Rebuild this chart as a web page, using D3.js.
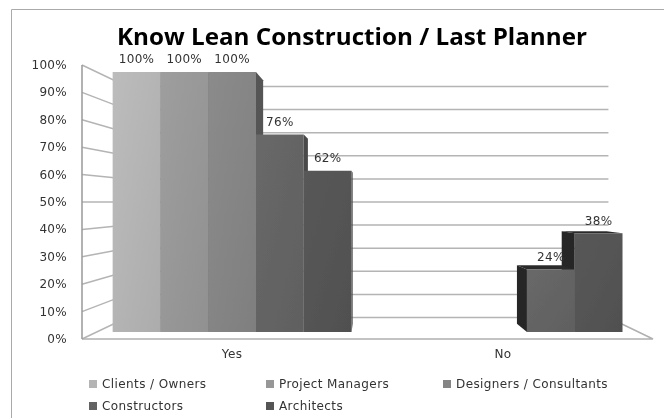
<!DOCTYPE html>
<html>
<head>
<meta charset="utf-8">
<script src="https://cdn.jsdelivr.net/npm/d3@7/dist/d3.min.js"></script>
<style>
  html, body { margin: 0; padding: 0; background: #fff; }
  svg { display: block; }
  text { font-family: "DejaVu Sans", sans-serif; fill: #333; }
</style>
</head>
<body>
<script>
'use strict';

const categories = ['Yes', 'No'];
const seriesNames = ['Clients / Owners', 'Project Managers', 'Designers / Consultants', 'Constructors', 'Architects'];
const clientsOwners = [100, 0];
const projectManagers = [100, 0];
const designersConsultants = [100, 0];
const constructors = [76, 24];
const architects = [62, 38];
const seriesValues = [clientsOwners, projectManagers, designersConsultants, constructors, architects];
const seriesColors = ['#b4b4b4', '#979797', '#858585', '#646464', '#545454'];
const sideColors = ['#555', '#555', '#555', '#4a4a4a', '#4a4a4a'];
const yTicks = [0, 10, 20, 30, 40, 50, 60, 70, 80, 90, 100];

const width = 664;
const height = 418;

// one point perspective: planes shrink towards the vanishing point
const vanish = [369, 202];
const frontDepth = 1;
const barFrontDepth = 0.949;
const barBackDepth = 0.889;
const wallDepth = 0.843;

const x = d3.scaleBand().domain(categories).range([82, 653]);
const y = d3.scaleLinear().domain([0, 100]).range([339, 65]);
const inner = d3.scaleBand().domain(d3.range(seriesNames.length))
  .range([0, x.bandwidth()]).paddingOuter(0.335).paddingInner(0);

const project = (px, py, depth) => [
  vanish[0] + (px - vanish[0]) * depth,
  vanish[1] + (py - vanish[1]) * depth,
];
const line = d3.line();

const svg = d3.select('body').append('svg')
  .attr('width', width)
  .attr('height', height);

const defs = svg.append('defs');
defs.append('filter').attr('id', 'soft')
  .append('feGaussianBlur').attr('stdDeviation', 0.45);
defs.append('filter').attr('id', 'softText')
  .append('feGaussianBlur').attr('stdDeviation', 0.3);

seriesColors.forEach((c, i) => {
  const grad = defs.append('linearGradient').attr('id', 'bar' + i)
    .attr('x1', 0).attr('y1', 0).attr('x2', 1).attr('y2', 1);
  grad.append('stop').attr('offset', 0).attr('stop-color', d3.rgb(c).brighter(0.12));
  grad.append('stop').attr('offset', 1).attr('stop-color', d3.rgb(c).darker(0.12));
});

const g = svg.append('g').attr('filter', 'url(#soft)');

// chart border, only top and left are in frame
g.append('path')
  .attr('d', line([[11.5, height], [11.5, 9.5], [width, 9.5]]))
  .attr('fill', 'none').attr('stroke', '#aaa').attr('stroke-width', 1);

// walls
const x0 = x.range()[0];
const x1 = x.range()[1];
const gridColor = '#b4b4b4';

g.append('g').selectAll('path').data(yTicks).enter().append('path')
  .attr('d', (d) => line([
    project(x0, y(d), frontDepth),
    project(x0, y(d), wallDepth),
    project(x1, y(d), wallDepth),
  ]))
  .attr('fill', 'none').attr('stroke', gridColor).attr('stroke-width', 1.5);

// floor edge on the right and front
g.append('path')
  .attr('d', line([
    project(x1, y(0), wallDepth),
    project(x1, y(0), frontDepth),
    project(x0, y(0), frontDepth),
  ]))
  .attr('fill', 'none').attr('stroke', '#b0b0b0').attr('stroke-width', 1.5);

g.append('path')
  .attr('d', line([project(x0, y(100), 1), project(x0, y(0), 1)]))
  .attr('fill', 'none').attr('stroke', '#999').attr('stroke-width', 1.5);

// bars, far from the vanishing point first so the sides stack right
const bars = [];
categories.forEach((cat, c) => {
  seriesValues.forEach((vals, s) => {
    if (vals[c] > 0) bars.push({ cat, s, value: vals[c] });
  });
});

const barLeft = (d) => x(d.cat) + inner(d.s);
const barRight = (d) => barLeft(d) + inner.bandwidth();

const drawn = bars.slice().sort((a, b) =>
  Math.abs((barLeft(b) + barRight(b)) / 2 - vanish[0]) - Math.abs((barLeft(a) + barRight(a)) / 2 - vanish[0]));

const bar = g.append('g').selectAll('g').data(drawn).enter().append('g');

// side face facing the vanishing point
bar.append('path')
  .attr('d', (d) => {
    const edge = barRight(d) < vanish[0] ? barRight(d) : barLeft(d);
    return line([
      project(edge, y(d.value), barFrontDepth),
      project(edge, y(d.value), barBackDepth),
      project(edge, y(0), barBackDepth),
      project(edge, y(0), barFrontDepth),
    ]) + 'Z';
  })
  .attr('fill', (d) => d.cat === 'No' ? '#262626' : sideColors[d.s]);

// top face, only seen when below eye level
bar.filter((d) => y(d.value) > vanish[1]).append('path')
  .attr('d', (d) => line([
    project(barLeft(d), y(d.value), barFrontDepth),
    project(barLeft(d), y(d.value), barBackDepth),
    project(barRight(d), y(d.value), barBackDepth),
    project(barRight(d), y(d.value), barFrontDepth),
  ]) + 'Z')
  .attr('fill', '#2b2b2b');

// front face
bar.append('path')
  .attr('d', (d) => line([
    project(barLeft(d), y(d.value), barFrontDepth),
    project(barRight(d), y(d.value), barFrontDepth),
    project(barRight(d), y(0), barFrontDepth),
    project(barLeft(d), y(0), barFrontDepth),
  ]) + 'Z')
  .attr('fill', (d) => `url(#bar${d.s})`);

// text
const t = svg.append('g').attr('filter', 'url(#softText)');

t.append('text')
  .attr('x', 352).attr('y', 44.5)
  .attr('text-anchor', 'middle')
  .attr('textLength', 470).attr('lengthAdjust', 'spacingAndGlyphs')
  .style('font-family', '"Open Sans", sans-serif')
  .style('font-weight', 700).style('font-size', '23px').style('fill', '#000')
  .text('Know Lean Construction / Last Planner');

t.append('g').selectAll('text').data(yTicks).enter().append('text')
  .attr('x', 67)
  .attr('y', (d) => y(d) + 4)
  .attr('text-anchor', 'end')
  .style('font-size', '12px')
  .style('letter-spacing', '0.3px')
  .text((d) => d + '%');

t.append('g').selectAll('text').data(categories).enter().append('text')
  .attr('x', (d) => project(x(d) + x.bandwidth() / 2, 0, barFrontDepth)[0])
  .attr('y', 358)
  .attr('text-anchor', 'middle')
  .style('font-size', '12px')
  .style('letter-spacing', '0.4px')
  .text((d) => d);

t.append('g').selectAll('text').data(bars).enter().append('text')
  .attr('x', (d) => project((barLeft(d) + barRight(d)) / 2, 0, barFrontDepth)[0])
  .attr('y', (d) => project(0, y(d.value), barFrontDepth)[1] - 8.5)
  .attr('text-anchor', 'middle')
  .style('font-size', '12px')
  .style('letter-spacing', '0.3px')
  .text((d) => d.value + '%');

// legend
const legendX = d3.scaleOrdinal().domain([0, 1, 2]).range([89, 266, 443]);
const legendY = d3.scaleOrdinal().domain([0, 1]).range([384, 406]);
const legend = t.append('g').selectAll('g').data(seriesNames).enter().append('g')
  .attr('transform', (d, i) => `translate(${legendX(i % 3)},${legendY(Math.floor(i / 3))})`);
legend.append('rect')
  .attr('x', 0).attr('y', -4).attr('width', 8).attr('height', 8)
  .attr('fill', (d, i) => seriesColors[i]);
legend.append('text')
  .attr('x', 13).attr('y', 4)
  .style('font-size', '12px')
  .style('letter-spacing', '0.4px')
  .text((d) => d);
</script>
</body>
</html>
